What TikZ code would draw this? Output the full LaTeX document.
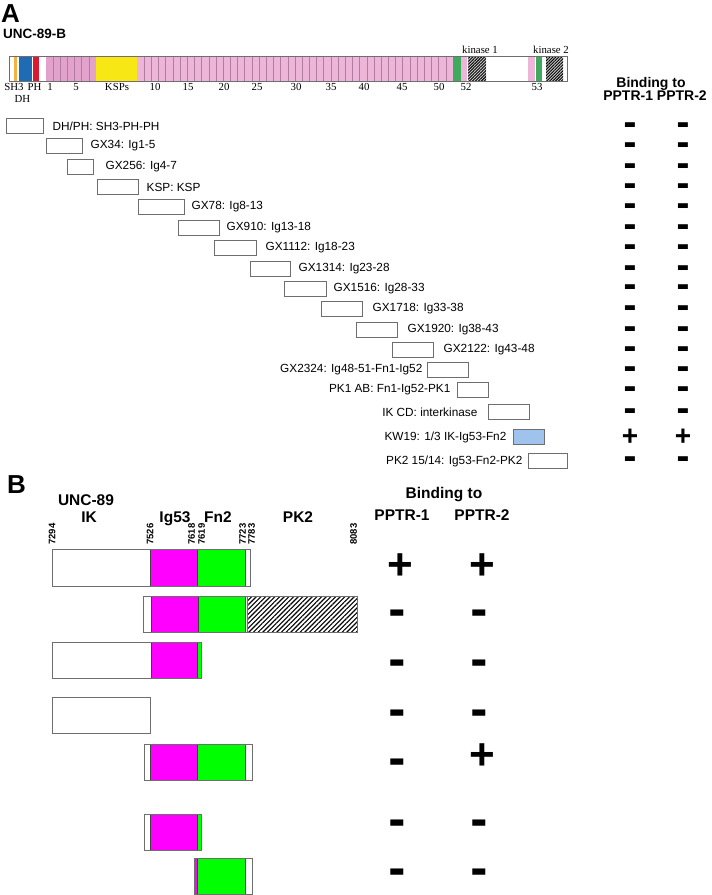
\documentclass[tikz,border=0pt]{standalone}
\usepackage{fontspec}
\setmainfont{Liberation Sans}
\newfontfamily\barserif{Liberation Serif}
\newfontfamily\blockfont{DejaVu Sans}
\usetikzlibrary{positioning,patterns.meta}
\definecolor{Frame}{HTML}{6E6E6E}
\definecolor{IgPink}{HTML}{EDB6D8}
\definecolor{IgPinkDark}{HTML}{E2A2CB}
\definecolor{IgLine}{HTML}{B07C9F}
\definecolor{KspYellow}{HTML}{F7E714}
\definecolor{ShBlue}{HTML}{1F6CB4}
\definecolor{PhRed}{HTML}{DA1A33}
\definecolor{ShOrange}{HTML}{F2B340}
\definecolor{FnGreen}{HTML}{3DAA5E}
\definecolor{HitBlue}{HTML}{9FC3EC}
\definecolor{IgMag}{HTML}{FF00FF}
\definecolor{FnLime}{HTML}{00FF00}
\tikzset{
  frag/.style={draw=Frame, fill=white, line width=0.9pt, inner sep=0pt, minimum height=15pt},
  fraglabel/.style={inner sep=0pt, font=\fontsize{11.8}{14}\selectfont},
  bartick/.style={inner sep=0pt, anchor=base, font=\barserif\fontsize{10.8}{12}\selectfont},
  head/.style={inner sep=0pt, anchor=base, font=\bfseries\fontsize{14}{16}\selectfont},
  headB/.style={inner sep=0pt, anchor=base, font=\bfseries\fontsize{15.5}{18}\selectfont},
  panel/.style={inner sep=0pt, anchor=base west, font=\bfseries\fontsize{26}{28}\selectfont},
  resnum/.style={inner sep=0pt, rotate=90, font=\bfseries\fontsize{9.5}{10}\selectfont},
  negA/.style={inner sep=0pt, font=\blockfont\fontsize{13}{13}\selectfont},
  posA/.style={inner sep=0pt, font=\bfseries\fontsize{28}{28}\selectfont},
  negB/.style={inner sep=0pt, font=\blockfont\fontsize{17}{17}\selectfont},
  posB/.style={inner sep=0pt, font=\bfseries\fontsize{44}{44}\selectfont},
  hatch/.style={pattern={Lines[angle=45,distance=2.1pt,line width=0.9pt]}},
  hatchB/.style={pattern={Lines[angle=45,distance=3.3pt,line width=1.1pt]}},
  seg/.style={draw=black!75, line width=0.6pt},
  outline/.style={draw=Frame, line width=0.9pt}
}

\begin{document}
\begin{tikzpicture}[x=1pt,y=-1pt]
  \useasboundingbox (0,0) rectangle (712,895);

  % panel A: domain bar
  \node[panel] (pA) at (1,22) {A};
  \node[inner sep=0pt, anchor=base west, font=\bfseries\fontsize{13.5}{15}\selectfont] (nameA) at (3,38) {UNC-89-B};
  \fill[ShOrange] (13.5,56) rectangle (17,81);
  \fill[ShBlue] (19,56) rectangle (32,81);
  \fill[PhRed] (33,56) rectangle (39,81);
  \fill[IgPinkDark] (46,56) rectangle (96,81);
  \foreach \k in {1,...,6}
    \draw[IgLine, line width=0.6pt] ({46+\k*50/7},56) -- ++(0,25);
  \fill[KspYellow] (96,56) rectangle (137,81);
  \fill[IgPink] (137,56) rectangle (453,81);
  \foreach \k in {1,...,43}
    \draw[IgLine, line width=0.6pt] ({137+\k*316/44},56) -- ++(0,25);
  \fill[FnGreen] (453,56) rectangle (461,81);
  \fill[IgPink] (461,56) rectangle (467,81);
  \fill[gray!45] (468,56) rectangle (486,81);
  \fill[hatch] (468,56) rectangle (486,81);
  \fill[IgPink] (528,56) rectangle (535,81);
  \fill[FnGreen] (536,56) rectangle (542,81);
  \fill[gray!45] (546,56) rectangle (563,81);
  \fill[hatch] (546,56) rectangle (563,81);
  \draw[outline, line width=0.8pt] (9,56) rectangle (567,81);

  \node[bartick] (tSH) at (14,90) {SH3};
  \node[bartick] (tPH) at (34.5,90) {PH};
  \node[bartick] (tDH) at (22.5,102) {DH};
  \node[bartick] (tKSP) at (117,90) {KSPs};
  \foreach \n/\xx in {1/50, 5/76, 10/155, 15/188, 20/224, 25/257, 30/296, 35/331, 40/364, 45/402, 50/439, 52/466, 53/537}
    \node[bartick] (t\n) at (\xx,90) {\n};
  \node[bartick] (kin1) at (480,53) {kinase 1};
  \node[bartick] (kin2) at (551,53) {kinase 2};

  \node[head] (bindA) at (651,87) {Binding to};
  \node[head] (pptrA) at (655,100) {PPTR-1 PPTR-2};

  % panel A: fragments
  \node[frag, minimum width=37pt] (f1) at (24.5,126) {};
  \node[frag, minimum width=36pt] (f2) at (64,146) {};
  \node[frag, minimum width=26pt] (f3) at (80,167) {};
  \node[frag, minimum width=41pt] (f4) at (117.5,187) {};
  \node[frag, minimum width=46pt] (f5) at (161,207) {};
  \node[frag, minimum width=41pt] (f6) at (198.5,228) {};
  \node[frag, minimum width=42pt] (f7) at (235,248) {};
  \node[frag, minimum width=40pt] (f8) at (270,269) {};
  \node[frag, minimum width=42pt] (f9) at (305,289) {};
  \node[frag, minimum width=41pt] (f10) at (341.5,309) {};
  \node[frag, minimum width=41pt] (f11) at (376.5,330) {};
  \node[frag, minimum width=41pt] (f12) at (412.5,350) {};
  \node[frag, minimum width=41pt] (f13) at (447.5,370) {};
  \node[frag, minimum width=31pt] (f14) at (472.5,390) {};
  \node[frag, minimum width=41pt] (f15) at (508.5,412) {};
  \node[frag, minimum width=31pt, fill=HitBlue] (f16) at (528.5,437) {};
  \node[frag, minimum width=39pt] (f17) at (547.5,461) {};

  \node[fraglabel, right=9pt of f1] (l1) {DH/PH: SH3-PH-PH};
  \node[fraglabel, right=8pt of f2] (l2) {GX34: Ig1-5};
  \node[fraglabel, right=12pt of f3] (l3) {GX256: Ig4-7};
  \node[fraglabel, right=8pt of f4] (l4) {KSP: KSP};
  \node[fraglabel, right=7pt of f5] (l5) {GX78: Ig8-13};
  \node[fraglabel, right=7pt of f6] (l6) {GX910: Ig13-18};
  \node[fraglabel, right=9pt of f7] (l7) {GX1112: Ig18-23};
  \node[fraglabel, right=8pt of f8] (l8) {GX1314: Ig23-28};
  \node[fraglabel, right=7pt of f9] (l9) {GX1516: Ig28-33};
  \node[fraglabel, right=10pt of f10] (l10) {GX1718: Ig33-38};
  \node[fraglabel, right=10pt of f11] (l11) {GX1920: Ig38-43};
  \node[fraglabel, right=10pt of f12] (l12) {GX2122: Ig43-48};
  \node[fraglabel, left=4pt of f13] (l13) {GX2324: Ig48-51-Fn1-Ig52};
  \node[fraglabel, left=6pt of f14] (l14) {PK1 AB: Fn1-Ig52-PK1};
  \node[fraglabel, left=10pt of f15] (l15) {IK CD: interkinase};
  \node[fraglabel, left=6pt of f16] (l16) {KW19: 1/3 IK-Ig53-Fn2};
  \node[fraglabel, left=5pt of f17] (l17) {PK2 15/14: Ig53-Fn2-PK2};

  \foreach \r/\yy in {1/126, 2/146, 3/167, 4/187, 5/207, 6/228, 7/248, 8/269, 9/288, 10/309, 11/330, 12/350, 13/370, 14/390, 15/412, 17/460} {
    \node[negA] (ma\r) at (630,\yy) {▬};
    \node[negA] (mb\r) at (683,\yy) {▬};
  }
  \node[posA] (pa16) at (630,437) {+};
  \node[posA] (pb16) at (683,437) {+};

  % panel B: IK-Ig53-Fn2-PK2 constructs
  \node[panel] (pB) at (7,493) {B};
  \node[headB] (nameB) at (86,505) {UNC-89};
  \node[headB] (hIK) at (89,522) {IK};
  \node[headB] (hIg) at (175,522) {Ig53};
  \node[headB] (hFn) at (218,522) {Fn2};
  \node[headB] (hPK) at (298,522) {PK2};
  \foreach \num/\xx in {7294/52, 7526/150, 7618/191.5, 7619/201.5, 7723/242.5, 7783/251.5, 8083/353.5}
    \node[resnum] (r\num) at (\xx,534) {\num};
  \node[headB] (bindB) at (444,498) {Binding to};
  \node[headB] (pptr1) at (402,520) {PPTR-1};
  \node[headB] (pptr2) at (482,520) {PPTR-2};

  % row 1
  \draw[seg, fill=IgMag] (150,549) rectangle (197,586);
  \draw[seg, fill=FnLime] (197,549) rectangle (245,586);
  \draw[outline] (52,549) rectangle (250,586);
  % row 2
  \draw[seg, fill=IgMag] (151,596) rectangle (198,632);
  \draw[seg, fill=FnLime] (198,596) rectangle (245,632);
  \fill[hatchB] (247,596) rectangle (357,632);
  \draw[outline] (143,596) rectangle (357,632);
  \draw[outline] (247,596) -- (247,632);
  % row 3
  \draw[seg, fill=IgMag] (151,642) rectangle (197,678);
  \draw[seg, fill=FnLime] (197,642) rectangle (201,678);
  \draw[outline] (52,642) rectangle (201,678);
  % row 4
  \draw[outline] (52,697) rectangle (150,733);
  % row 5
  \draw[seg, fill=IgMag] (150,744) rectangle (197,780);
  \draw[seg, fill=FnLime] (197,744) rectangle (245,780);
  \draw[outline] (144,744) rectangle (252,780);
  % row 6
  \draw[seg, fill=IgMag] (150,814) rectangle (197,850);
  \draw[seg, fill=FnLime] (197,814) rectangle (201,850);
  \draw[outline] (144,814) rectangle (201,850);
  % row 7
  \draw[seg, fill=IgMag] (194,858) rectangle (197,894);
  \draw[seg, fill=FnLime] (197,858) rectangle (245,894);
  \draw[outline] (194,858) rectangle (252,894);

  \node[posB] (qa1) at (400,567) {+};
  \node[posB] (qb1) at (482,567) {+};
  \foreach \r/\yy in {2/614, 3/664, 4/714, 6/824, 7/873} {
    \node[negB] (qa\r) at (397,\yy) {▬};
    \node[negB] (qb\r) at (479,\yy) {▬};
  }
  \node[negB] (qa5) at (397,763) {▬};
  \node[posB] (qb5) at (482,757) {+};
\end{tikzpicture}
\end{document}
